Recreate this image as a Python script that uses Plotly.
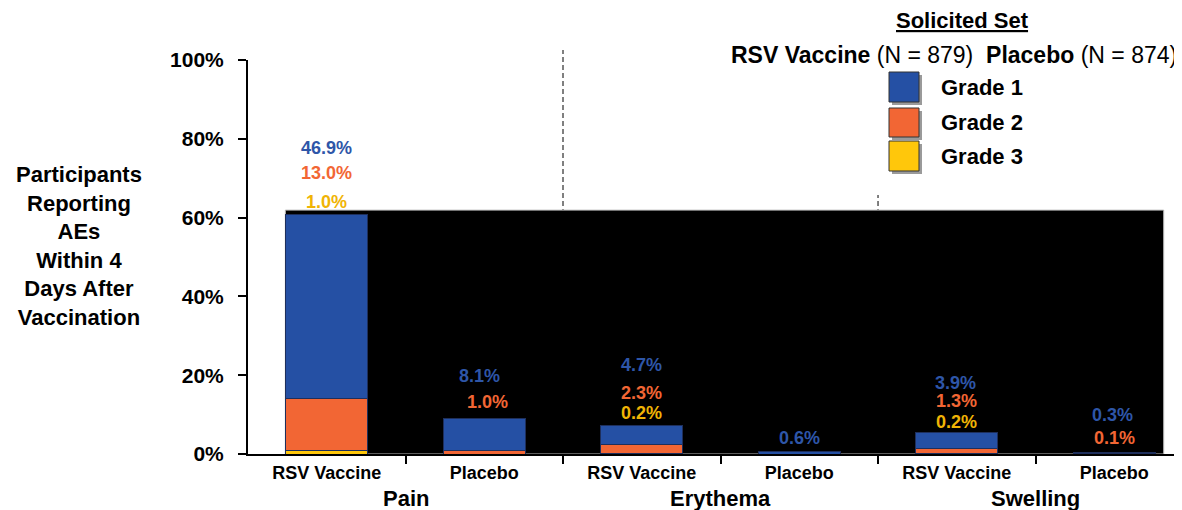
import plotly.graph_objects as go

# ---- data ----
categories = ["RSV Vaccine", "Placebo", "RSV Vaccine", "Placebo", "RSV Vaccine", "Placebo"]
groups = ["Pain", "Erythema", "Swelling"]
grade1 = [46.9, 8.1, 4.7, 0.6, 3.9, 0.3]
grade2 = [13.0, 1.0, 2.3, 0.0, 1.3, 0.1]
grade3 = [1.0, 0.0, 0.2, 0.0, 0.2, 0.0]
grade_names = ["Grade 1", "Grade 2", "Grade 3"]
y_ticks = [0, 20, 40, 60, 80, 100]
n_vaccine = 879
n_placebo = 874

# ---- style ----
FONT = "Liberation Sans, Arial, sans-serif"
BLUE = "#2550A4"
ORANGE = "#F26634"
YELLOW = "#FFC70B"
BLUE_TXT = "#2E56A8"
ORANGE_TXT = "#F26634"
YELLOW_TXT = "#F0B405"
EDGE = "#1E2F5C"

OFF = 8  # page body margin of the html page
W, H = 1182 - OFF, 510 - OFF
# plot area in page pixels: x 248..1182, y 60..454
L, R, T, B = 248 - OFF, 0, 60 - OFF, 510 - 454
PW, PH = W - L - R, H - T - B
XR = [-0.5, 5.43]


def px(x):
    """page pixel x -> paper"""
    return (x - OFF - L) / PW


def py(y):
    """page pixel y -> paper"""
    return (454 - y) / PH


def xdata_to_paper(v):
    return (v - XR[0]) / (XR[1] - XR[0])


xs = list(range(len(categories)))

fig = go.Figure()
for vals, col, name in [(grade3, YELLOW, grade_names[2]),
                        (grade2, ORANGE, grade_names[1]),
                        (grade1, BLUE, grade_names[0])]:
    fig.add_trace(go.Bar(
        x=xs, y=vals, name=name, width=0.52,
        marker=dict(color=col, line=dict(color=EDGE, width=1)),
        showlegend=False, hoverinfo="skip",
    ))

shapes = []
# group separators (dashed)
for sep, top in [(1.5, py(50)), (3.5, py(195))]:
    xp = xdata_to_paper(sep)
    shapes.append(dict(type="line", xref="paper", yref="paper", x0=xp, x1=xp,
                       y0=0, y1=top, layer="below",
                       line=dict(color="black", width=1, dash="5px,3px")))
# black panel behind the bars
shapes.append(dict(type="rect", xref="x", yref="y", x0=-0.263, x1=5.314,
                   y0=0, y1=61.9, layer="below", fillcolor="black",
                   line=dict(color="#bdbdbd", width=1)))

# legend squares with shadow
legend_rows = [(72, 102, BLUE), (108, 137, ORANGE), (141, 171, YELLOW)]
for y0, y1, col in legend_rows:
    shapes.append(dict(type="rect", xref="paper", yref="paper",
                       x0=px(892), x1=px(922), y0=py(y1 + 3), y1=py(y0 + 3),
                       fillcolor="#9a9a9a", line=dict(width=0)))
    shapes.append(dict(type="rect", xref="paper", yref="paper",
                       x0=px(889), x1=px(919), y0=py(y1), y1=py(y0),
                       fillcolor=col, line=dict(color="#333333", width=1)))

annotations = []
# value labels: (bar index, grade series, x offset, y position in %)
label_pos = [
    (0, 0, 0.00, 77.7), (0, 1, 0.00, 71.4), (0, 2, 0.00, 64.0),
    (1, 0, -0.03, 19.8), (1, 1, 0.02, 13.3),
    (2, 0, 0.00, 22.6), (2, 1, 0.00, 15.5), (2, 2, 0.00, 10.4),
    (3, 0, 0.00, 4.1),
    (4, 0, -0.01, 18.0), (4, 1, 0.00, 13.5), (4, 2, 0.00, 8.1),
    (5, 0, -0.01, 10.0), (5, 1, 0.00, 4.1),
]
series = [grade1, grade2, grade3]
txt_cols = [BLUE_TXT, ORANGE_TXT, YELLOW_TXT]
for i, g, dx, yv in label_pos:
    annotations.append(dict(
        x=xs[i] + dx, y=yv, xref="x", yref="y", showarrow=False,
        text=f"{series[g][i]:.1f}%", xanchor="center", yanchor="middle",
        font=dict(family=FONT, size=18, color=txt_cols[g], weight="bold")))

# group labels
for k, gname in enumerate(groups):
    annotations.append(dict(
        x=2 * k + 0.5, y=py(498), xref="x", yref="paper", showarrow=False,
        text=gname, xanchor="center", yanchor="middle",
        font=dict(family=FONT, size=22, color="black", weight="bold")))

# y-axis title
annotations.append(dict(
    x=px(79), y=py(246), xref="paper", yref="paper", showarrow=False,
    text="Participants<br>Reporting<br>AEs<br>Within 4<br>Days After<br>Vaccination",
    xanchor="center", yanchor="middle", align="center",
    font=dict(family=FONT, size=22, color="black", weight="bold")))

# legend header
annotations.append(dict(
    x=px(962), y=py(21), xref="paper", yref="paper", showarrow=False,
    text="<u>Solicited Set</u>", xanchor="center", yanchor="middle",
    font=dict(family=FONT, size=22, color="black", weight="bold")))
annotations.append(dict(
    x=px(1179), y=py(55), xref="paper", yref="paper", showarrow=False,
    text=(f"<b>RSV Vaccine</b> (N = {n_vaccine})  "
          f"<b>Placebo</b> (N = {n_placebo})"),
    xanchor="right", yanchor="middle",
    font=dict(family=FONT, size=23, color="black")))
for (y0, y1, col), gname in zip(legend_rows, grade_names):
    annotations.append(dict(
        x=px(939), y=py((y0 + y1) / 2), xref="paper", yref="paper",
        showarrow=False, text=gname, xanchor="left", yanchor="middle",
        font=dict(family=FONT, size=22, color="black", weight="bold")))

fig.update_layout(
    width=W, height=H, barmode="stack",
    margin=dict(l=L, r=R, t=T, b=B, pad=0),
    paper_bgcolor="white", plot_bgcolor="white",
    shapes=shapes, annotations=annotations,
    xaxis=dict(
        range=XR, tickvals=xs, ticktext=categories,
        showgrid=False, zeroline=False, showline=True,
        linecolor="black", linewidth=2,
        ticks="outside", ticklen=1, tickcolor="rgba(0,0,0,0)",
        tickfont=dict(family=FONT, size=18, color="black", weight="bold"),
        minor=dict(tickvals=[0.5, 1.5, 2.5, 3.5, 4.5], ticks="outside",
                   ticklen=8, tickwidth=2, tickcolor="black"),
    ),
    yaxis=dict(
        range=[0, 100], tickvals=y_ticks,
        ticktext=[f"{v}%" for v in y_ticks],
        showgrid=False, zeroline=False, showline=True,
        linecolor="black", linewidth=2,
        ticks="outside", ticklen=8, tickwidth=2, tickcolor="black",
        ticklabelstandoff=10,
        tickfont=dict(family=FONT, size=21, color="black", weight="bold"),
    ),
)

fig.write_html("out.html")
